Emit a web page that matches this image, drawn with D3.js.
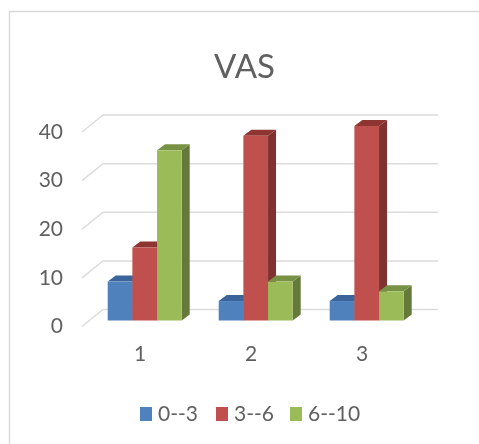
<!DOCTYPE html>
<html>
<head>
<meta charset="utf-8">
<script src="https://cdn.jsdelivr.net/npm/d3@7"></script>
<style>
  html, body { margin: 0; padding: 0; background: #fff; overflow: hidden; }
  svg { display: block; filter: blur(0.5px); }
  text { font-family: Lato, sans-serif; }
</style>
</head>
<body>
<div id="chart"></div>
<script>
const categories = ['1', '2', '3'];
const seriesNames = ['0--3', '3--6', '6--10'];
const low = [8, 4, 4];
const mid = [15, 38, 40];
const high = [35, 8, 6];
const yTicks = [0, 10, 20, 30, 40];
const title = 'VAS';

const W = 479, H = 444;
const seriesValues = [low, mid, high];
const front = ['#4f81bd', '#c0504d', '#9bbb59'];
const top_ = ['#3b659a', '#8e3431', '#779244'];
const side = ['#345a8a', '#7f322f', '#657a3a'];

// bar depth and wall offset, fake 3d
const barDx = 8, barDy = -6;
const wallDx = 21, wallDy = -11, wallX0 = 82, wallX1 = 438;

const svg = d3.select('#chart').append('svg')
  .attr('width', W).attr('height', H)
  .attr('viewBox', `0 0 ${W} ${H}`);

svg.append('path')
  .attr('d', `M9.5,${H}V11.5H${W}`)
  .attr('fill', 'none')
  .attr('stroke', '#d9d9d9')
  .attr('stroke-width', 1.5);

const y = d3.scaleLinear().domain([0, 40]).range([320.5, 126]);
const x = d3.scaleBand().domain(categories).range([89.2, 422.2])
  .paddingInner(1 / 3).paddingOuter(1 / 6);
const xInner = d3.scaleBand().domain(seriesNames).range([0, x.bandwidth()]);

svg.append('text')
  .attr('x', 244.5).attr('y', 78)
  .attr('text-anchor', 'middle')
  .attr('font-size', 33)
  .attr('fill', '#606060')
  .text(title);

// gridlines with the slanted bit on the side wall
svg.append('g').selectAll('path')
  .data(yTicks)
  .join('path')
  .attr('d', d => {
    const yb = y(d) + wallDy;
    return `M${wallX0},${yb + 17}L${wallX0 + wallDx},${yb}H${wallX1}`;
  })
  .attr('fill', 'none')
  .attr('stroke', '#dcdcdc')
  .attr('stroke-width', 1.5);

const yAxis = d3.axisLeft(y).tickValues(yTicks).tickSize(0).tickPadding(0);
const yG = svg.append('g').attr('transform', 'translate(63,5.5)').call(yAxis);
yG.select('.domain').remove();
yG.selectAll('text').attr('font-size', 21).attr('fill', '#606060')
  .style('font-family', 'Lato, sans-serif');

const xAxis = d3.axisBottom(x).tickSize(0).tickPadding(0);
const xG = svg.append('g').attr('transform', 'translate(-4.5,346)').call(xAxis);
xG.select('.domain').remove();
xG.selectAll('text').attr('font-size', 21).attr('fill', '#606060')
  .style('font-family', 'Lato, sans-serif');

categories.forEach((cat, c) => {
  const group = svg.append('g');
  seriesNames.forEach((name, s) => {
    const x0 = x(cat) + xInner(name), x1 = x0 + xInner.bandwidth();
    const yTop = y(seriesValues[s][c]), y0 = y(0);
    group.append('path')
      .attr('d', `M${x1},${yTop}L${x1 + barDx},${yTop + barDy}V${y0 + barDy}L${x1},${y0}Z`)
      .attr('fill', side[s]);
    group.append('path')
      .attr('d', `M${x0},${yTop}L${x0 + barDx},${yTop + barDy}H${x1 + barDx}L${x1},${yTop}Z`)
      .attr('fill', top_[s]);
    group.append('rect')
      .attr('x', x0).attr('y', yTop)
      .attr('width', x1 - x0).attr('height', y0 - yTop)
      .attr('fill', front[s]);
  });
});

// legend
const legendSwatch = [140, 216, 290];
const legend = svg.append('g').selectAll('g')
  .data(seriesNames)
  .join('g')
  .attr('transform', (d, i) => `translate(${legendSwatch[i]},407)`);
legend.append('rect')
  .attr('width', 12).attr('height', 14)
  .attr('fill', (d, i) => front[i]);
legend.append('text')
  .attr('x', 18).attr('y', 14)
  .attr('font-size', 21)
  .attr('fill', '#606060')
  .text(d => d);
</script>
</body>
</html>
